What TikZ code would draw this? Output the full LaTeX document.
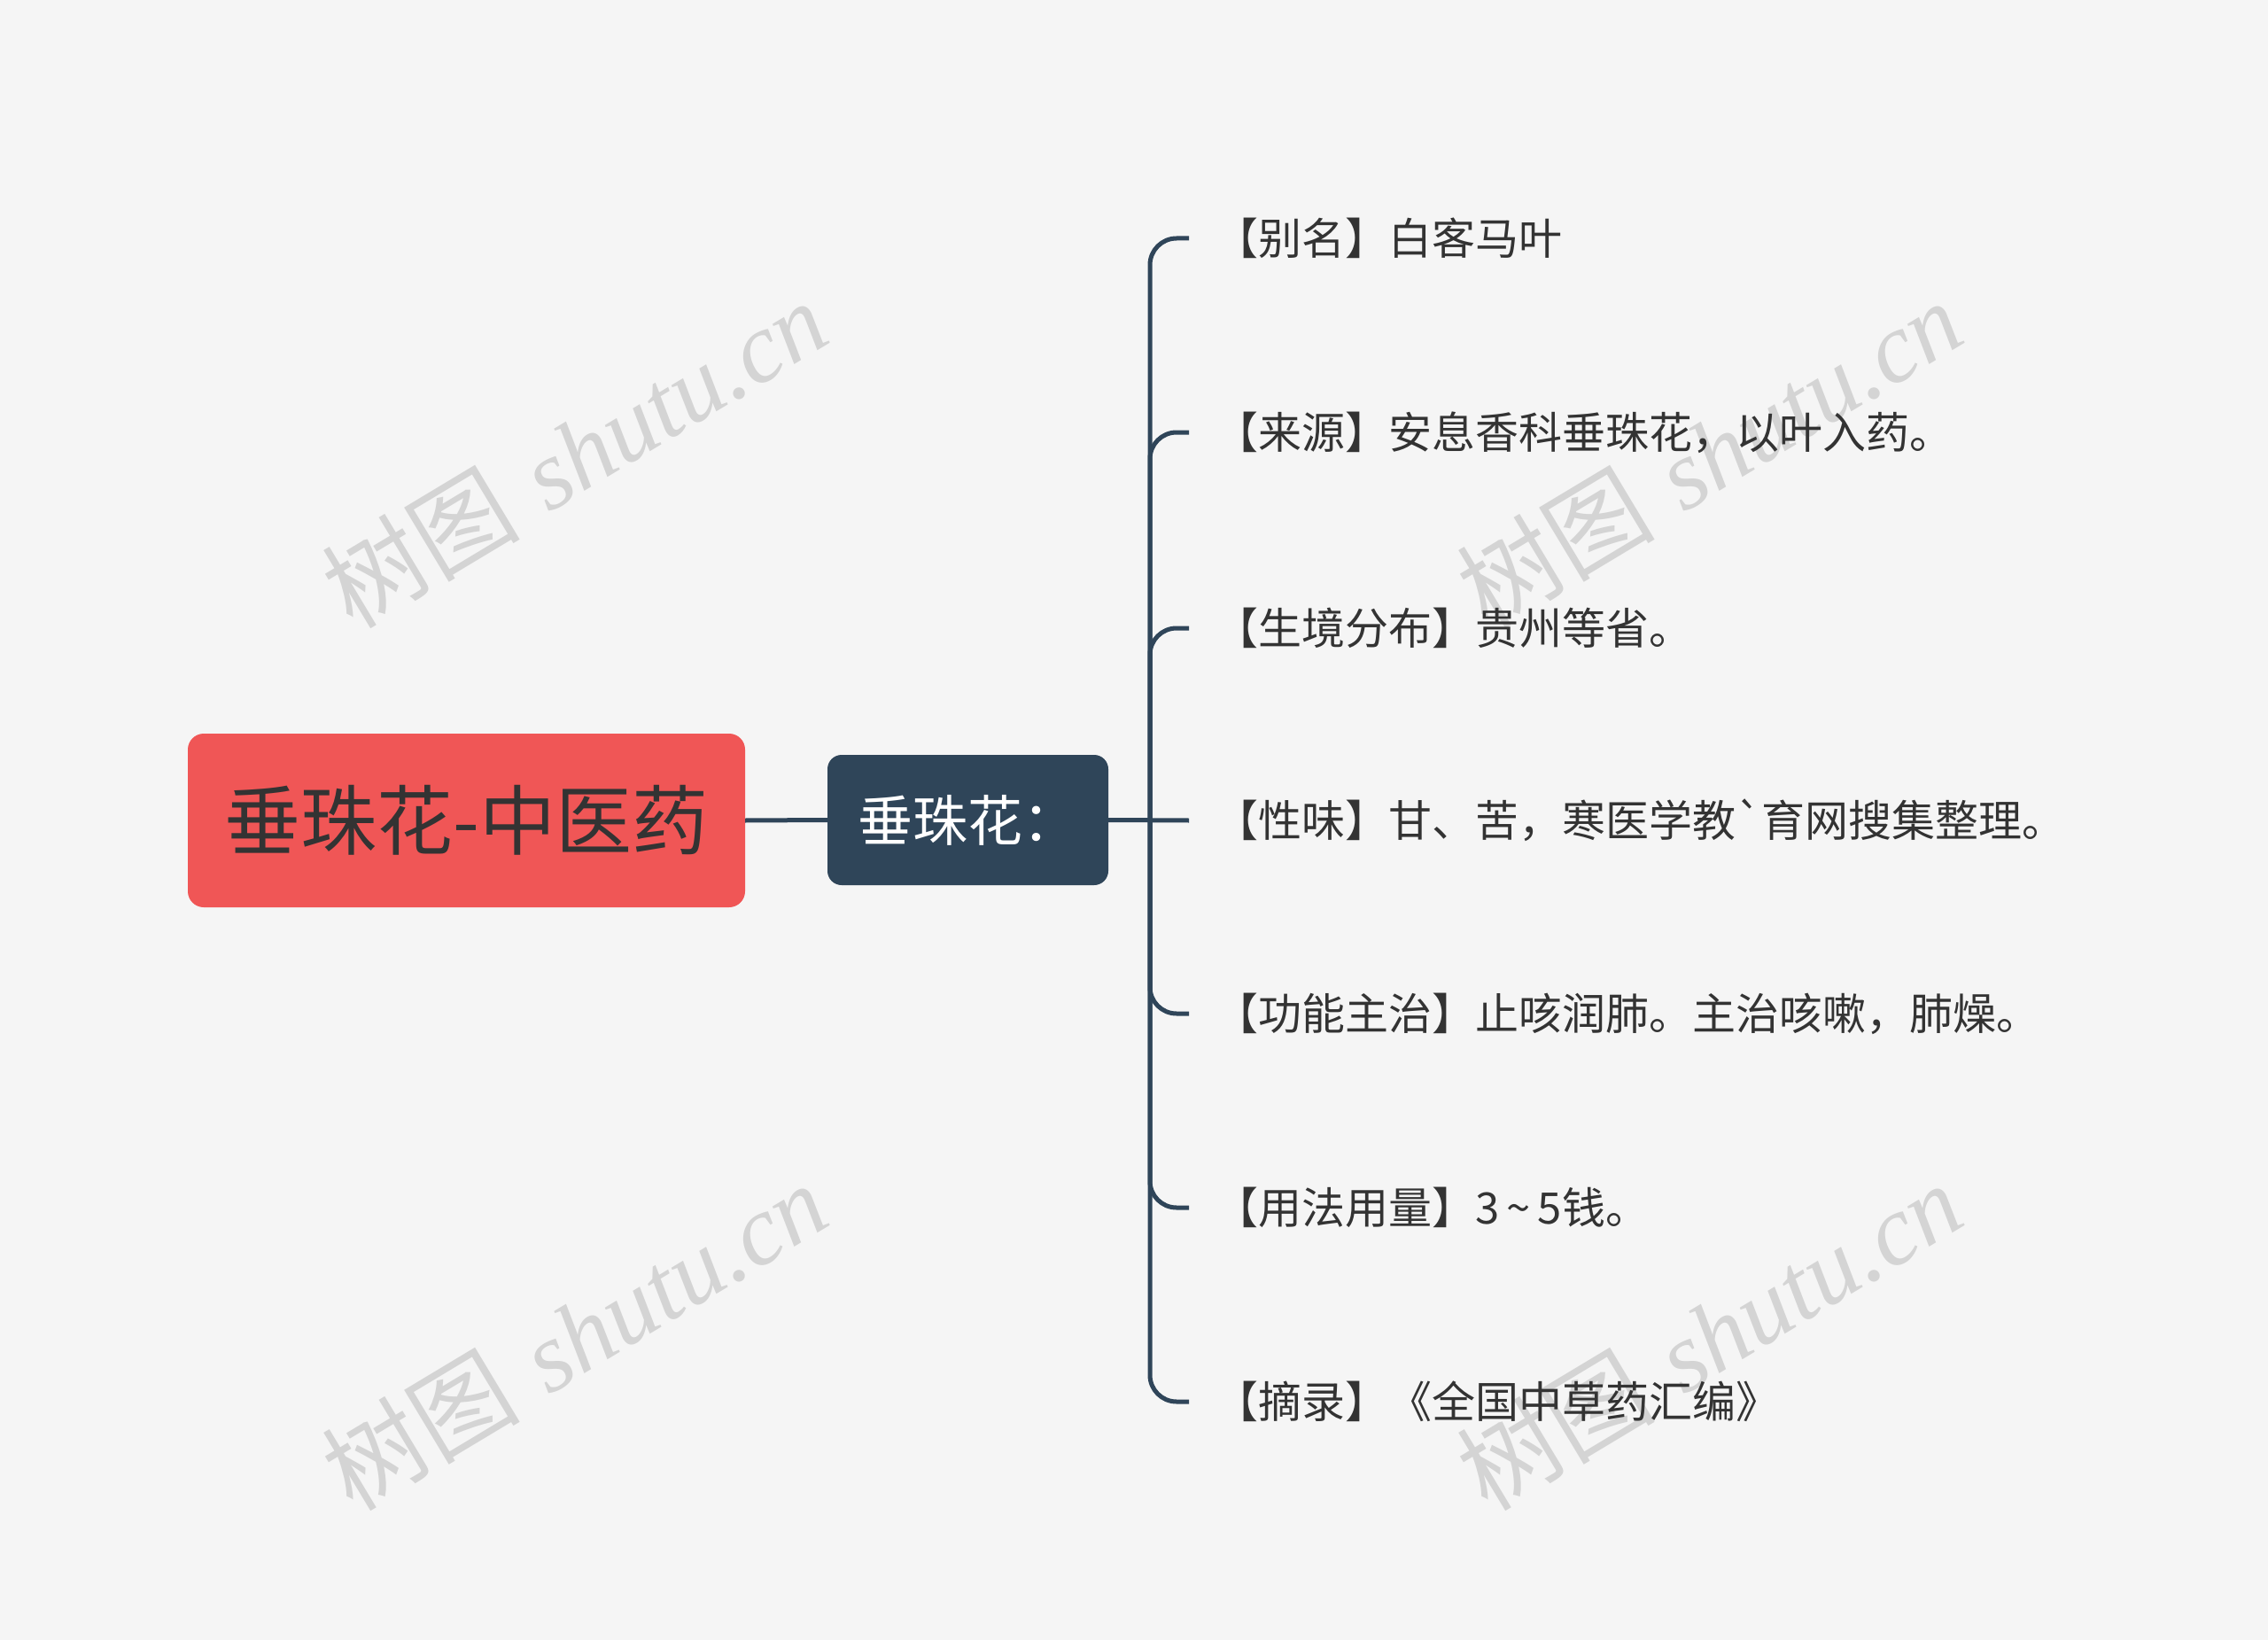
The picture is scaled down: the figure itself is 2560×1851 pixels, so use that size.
\documentclass[tikz,border=0pt]{standalone}
\usepackage{fontspec}
\newfontfamily\cjk{Noto Sans CJK SC}
\newfontfamily\wmlatin{Liberation Serif}
\definecolor{bg}{HTML}{F5F5F5}
\definecolor{rootred}{HTML}{F05656}
\definecolor{navy}{HTML}{2F4559}
\definecolor{txt}{HTML}{333333}
\definecolor{wm}{HTML}{D4D4D4}
\begin{document}
\begin{tikzpicture}[x=1pt,y=-1pt,
  rootbox/.style={fill=rootred, rounded corners=18pt, minimum width=629pt, minimum height=196pt, inner sep=0pt, text=txt, font=\cjk\fontsize{86}{86}\selectfont},
  subbox/.style={fill=navy, rounded corners=16pt, minimum width=317pt, minimum height=147pt, inner sep=0pt, text=white, font=\cjk\fontsize{62}{62}\selectfont},
  leaf/.style={anchor=west, inner sep=0pt, text=txt, font=\cjk\fontsize{49}{49}\selectfont},
  link/.style={draw=navy, line width=5pt},
  wmark/.style={text=wm, rotate=31, inner sep=0pt, font=\fontsize{112}{112}\selectfont}
]
\fill[bg] (0,0) rectangle (2560,1851);
\useasboundingbox (0,0) rectangle (2560,1851);

% watermarks
\node[wmark] (wm1) at (648,512) {{\cjk 树图} \wmlatin\itshape shutu.cn};
\node[wmark] (wm2) at (1929,512) {{\cjk 树图} \wmlatin\itshape shutu.cn};
\node[wmark] (wm3) at (648,1508) {{\cjk 树图} \wmlatin\itshape shutu.cn};
\node[wmark] (wm4) at (1929,1508) {{\cjk 树图} \wmlatin\itshape shutu.cn};

% nodes
\node[rootbox] (root) at (526.5,926) {垂珠花-中医药};
\node[subbox] (sub) at (1092.5,925.5) {垂珠花：};
\coordinate (hub) at (1298,926);

\node[leaf] (l1) at (1371,269) {【别名】白客马叶};
\node[leaf] (l2) at (1371,488) {【来源】安息香科垂珠花，以叶入药。};
\node[leaf] (l3) at (1371,709) {【生境分布】贵州等省。};
\node[leaf] (l4) at (1371,926) {【性味】甘、苦，寒医学教`育网搜集整理。};
\node[leaf] (l5) at (1371,1144) {【功能主治】止咳润肺。主治咳嗽，肺燥。};
\node[leaf] (l6) at (1371,1363) {【用法用量】3\,{\char"007E}\,5钱。};
\node[leaf] (l7) at (1371,1582) {【摘录】《全国中草药汇编》};

% connectors
\draw[link] (root.east) -- (sub.west);
\draw[link] (sub.east) -- ([xshift=-29pt]l4.west);
\foreach \i in {1,2,3,5,6,7}{
  \draw[link, rounded corners=30pt] (hub) |- ([xshift=-29pt]l\i.west);
}
\end{tikzpicture}
\end{document}
